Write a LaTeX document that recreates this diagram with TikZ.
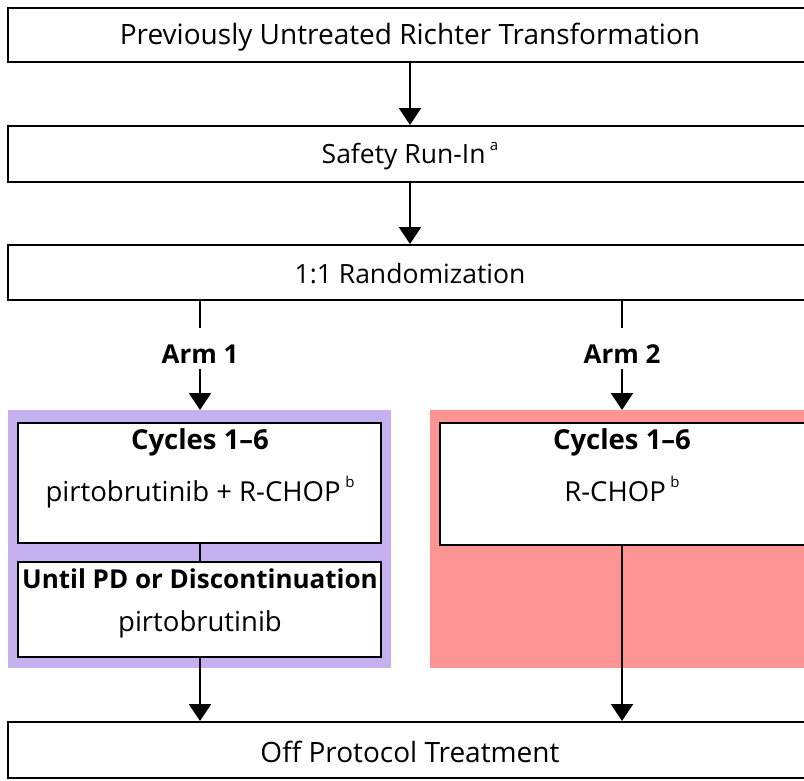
\documentclass[tikz,border=0pt]{standalone}
\usepackage{fontspec}
\setmainfont{Open Sans}
\usetikzlibrary{arrows.meta}
\definecolor{armpurple}{RGB}{197,176,240}
\definecolor{armred}{RGB}{255,148,148}
\newcommand{\supa}[1]{\,\raisebox{0.5em}{\fontsize{15}{16}\selectfont #1}}
\tikzset{
  box/.style={draw=black, line width=2pt, fill=white, inner sep=0pt},
  txt/.style={inner sep=0pt, anchor=base},
  bigtxt/.style={txt, font=\fontsize{28}{32}\selectfont},
  midtxt/.style={txt, font=\fontsize{26.5}{30}\selectfont},
  bodytxt/.style={txt, font=\fontsize{27.5}{31}\selectfont},
  headtxt/.style={txt, font=\fontsize{27.5}{31}\selectfont\bfseries},
  armtxt/.style={txt, font=\fontsize{26}{30}\selectfont\bfseries, text height=35pt, text depth=6pt},
  conn/.style={line width=2pt, draw=black},
  arr/.style={conn, -{Triangle[width=22pt,length=17pt]}},
}
\begin{document}
\begin{tikzpicture}[x=1pt,y=-1pt]
\useasboundingbox (0,0) rectangle (804,780);
\clip (0,0) rectangle (804,780);
% backgrounds
\fill[armpurple] (8,410) rectangle (391,668);
\fill[armred] (430,410) rectangle (812,668);
\coordinate (armtop) at (0,410);
% boxes
\node[box, minimum width=804pt, minimum height=54pt] (top) at (410,35) {};
\node[bigtxt] (toptxt) at (410,44) {Previously Untreated Richter Transformation};
\node[box, minimum width=804pt, minimum height=56pt] (safe) at (410,154) {};
\node[midtxt] (safetxt) at (410,163.5) {Safety Run-In\supa{a}};
\node[box, minimum width=804pt, minimum height=55pt] (rand) at (410,272.5) {};
\node[midtxt] (randtxt) at (410,283) {1:1 Randomization};
% arm labels
\node[armtxt] (arm1) at (200,363) {Arm 1};
\node[armtxt] (arm2) at (622,363) {Arm 2};
% arm 1 boxes
\node[box, minimum width=363pt, minimum height=120pt] (c1) at (199.5,483) {};
\node[headtxt] (c1h) at (200,449) {Cycles 1–6};
\node[bodytxt] (c1t) at (200,501) {pirtobrutinib + R-CHOP\supa{b}};
\node[box, minimum width=363pt, minimum height=95pt] (c2) at (199.5,609.5) {};
\node[txt, font=\fontsize{26}{30}\selectfont\bfseries] (c2h) at (200,588) {Until PD or Discontinuation};
\node[bodytxt] (c2t) at (200,631) {pirtobrutinib};
% arm 2 box
\node[box, minimum width=372pt, minimum height=122pt] (r1) at (626,484) {};
\node[headtxt] (r1h) at (622,449) {Cycles 1–6};
\node[bodytxt] (r1t) at (622,501) {R-CHOP\supa{b}};
% bottom
\node[box, minimum width=804pt, minimum height=56pt] (off) at (410,750) {};
\node[bigtxt] (offtxt) at (410,762) {Off Protocol Treatment};
% connectors
\draw[arr] (top.south) -- (safe.north);
\draw[arr] (safe.south) -- (rand.north);
\draw[conn] (rand.south -| arm1) -- (arm1.north);
\draw[conn] (rand.south -| arm2) -- (arm2.north);
\draw[arr] (arm1.south) -- (arm1.south |- armtop);
\draw[arr] (arm2.south) -- (arm2.south |- armtop);
\draw[conn] (c1.south -| c1h) -- (c2.north -| c1h);
\draw[arr] (c2.south -| c1h) -- (off.north -| c1h);
\draw[arr] (r1.south -| r1h) -- (off.north -| r1h);
\end{tikzpicture}
\end{document}
